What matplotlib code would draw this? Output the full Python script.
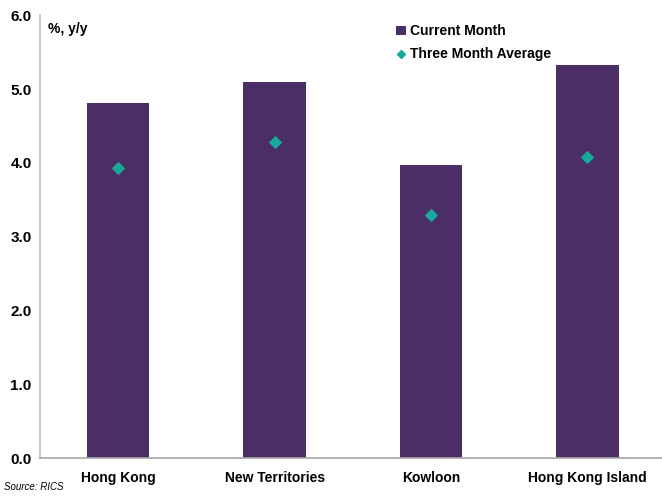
import matplotlib
matplotlib.use("Agg")
import matplotlib.pyplot as plt
from matplotlib.ticker import FixedLocator

categories = ["Hong Kong", "New Territories", "Kowloon", "Hong Kong Island"]
current_month = [4.81, 5.09, 3.97, 5.33]
three_month_avg = [3.93, 4.28, 3.29, 4.08]
yticks = [0.0, 1.0, 2.0, 3.0, 4.0, 5.0, 6.0]

plt.rcParams['font.family'] = ['Liberation Sans', 'DejaVu Sans']

fig = plt.figure(figsize=(6.62, 4.98), dpi=100)
ax = fig.add_axes([0.0604, 0.0803, 0.945, 0.889])

x = list(range(len(categories)))
bars = ax.bar(x, current_month, width=0.4, color="#4B2E66", label="Current Month", zorder=2)
pts = ax.scatter(x, three_month_avg, marker="D", s=34, color="#17A99A", label="Three Month Average", zorder=3)

ax.set_xlim(-0.5, len(categories) - 0.5)
ax.set_ylim(0, 6.0)
ax.yaxis.set_major_locator(FixedLocator(yticks))
ax.set_yticklabels([f"{v:.1f}" for v in yticks], fontsize=11, fontweight="bold")
ax.set_xticks(x)
ax.set_xticklabels(categories, fontsize=10, fontweight="bold")
ax.tick_params(axis="both", length=0)
ax.tick_params(axis="y", pad=6)
ax.tick_params(axis="x", pad=9)

for s in ["top", "right"]:
    ax.spines[s].set_visible(False)
ax.spines["left"].set_color("#BFBFBF")
ax.spines["bottom"].set_color("#A6A6A6")
ax.spines["left"].set_linewidth(1.2)
ax.spines["bottom"].set_linewidth(1.2)

ax.text(0.013, 0.985, "%, y/y", transform=ax.transAxes, fontsize=10, fontweight="bold", va="top", ha="left")

leg = ax.legend(handles=[bars, pts], loc="upper left", bbox_to_anchor=(0.555, 1.0), frameon=False,
                prop={"size": 10, "weight": "bold"}, handlelength=0.7, handletextpad=0.3,
                labelspacing=0.6, borderaxespad=0.25, markerscale=0.7)

fig.text(0.006, 0.012, "Source: RICS", fontsize=7, style="italic", ha="left", va="bottom")

fig.savefig("out.png", dpi=100)
